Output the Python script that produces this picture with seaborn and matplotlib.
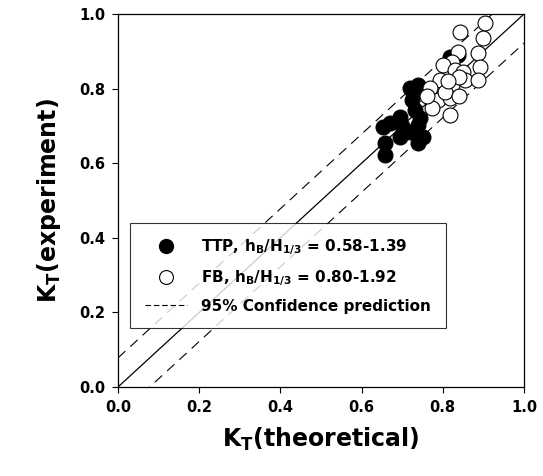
import numpy as np
import pandas as pd
import matplotlib
matplotlib.use("Agg")
import matplotlib.pyplot as plt
from matplotlib.lines import Line2D
import seaborn as sns

# Transmission coefficient: theoretical vs. measured
ttp_theory = [0.658, 0.658, 0.653, 0.670, 0.695, 0.695, 0.719, 0.739, 0.739, 0.732,
              0.724, 0.719, 0.739, 0.727, 0.700, 0.745, 0.750, 0.837, 0.818]
ttp_exper = [0.622, 0.654, 0.697, 0.708, 0.724, 0.670, 0.684, 0.654, 0.702, 0.743,
             0.769, 0.802, 0.810, 0.788, 0.700, 0.720, 0.670, 0.890, 0.885]

fb_theory = [0.904, 0.842, 0.899, 0.837, 0.887, 0.892, 0.823, 0.800, 0.830, 0.850,
             0.793, 0.823, 0.855, 0.887, 0.768, 0.788, 0.818, 0.773, 0.818, 0.805,
             0.840, 0.760, 0.840, 0.812]
fb_exper = [0.976, 0.952, 0.936, 0.898, 0.895, 0.858, 0.871, 0.863, 0.850, 0.845,
            0.823, 0.810, 0.823, 0.823, 0.802, 0.769, 0.775, 0.748, 0.729, 0.790,
            0.780, 0.780, 0.830, 0.820]

band_halfwidth = 0.078
ticks = [0.0, 0.2, 0.4, 0.6, 0.8, 1.0]
tick_labels = ["0.0", "0.2", "0.4", "0.6", "0.8", "1.0"]

sns.set_style("ticks")
plt.rcParams["font.family"] = ["DejaVu Sans"]
plt.rcParams["font.weight"] = "bold"
plt.rcParams["text.color"] = "black"
plt.rcParams["axes.labelcolor"] = "black"
plt.rcParams["xtick.color"] = "black"
plt.rcParams["ytick.color"] = "black"
plt.rcParams["mathtext.fontset"] = "custom"
plt.rcParams["mathtext.rm"] = "DejaVu Sans:bold"
plt.rcParams["mathtext.it"] = "DejaVu Sans:bold"
plt.rcParams["mathtext.bf"] = "DejaVu Sans:bold"

fig = plt.figure(figsize=(5.43, 4.76), dpi=100)
ax = fig.add_axes([118 / 543, 1 - 387 / 476, 406 / 543, 373 / 476])

line_x = np.array([0.0, 1.0])
lines = pd.DataFrame({
    "x": np.concatenate([line_x, line_x, line_x]),
    "y": np.concatenate([line_x, line_x + band_halfwidth, line_x - band_halfwidth]),
    "kind": ["fit"] * 2 + ["upper"] * 2 + ["lower"] * 2,
})
sns.lineplot(data=lines[lines.kind == "fit"], x="x", y="y", color="black",
             lw=0.9, ax=ax, legend=False)
for k in ["upper", "lower"]:
    sns.lineplot(data=lines[lines.kind == k], x="x", y="y", color="black",
                 lw=0.8, ax=ax, legend=False, dashes=False,
                 linestyle=(0, (9, 6)))

ttp = pd.DataFrame({"x": ttp_theory, "y": ttp_exper})
fb = pd.DataFrame({"x": fb_theory, "y": fb_exper})
sns.scatterplot(data=ttp, x="x", y="y", ax=ax, s=115, color="black",
                edgecolor="black", linewidth=0.8, zorder=3)
sns.scatterplot(data=fb, x="x", y="y", ax=ax, s=115, color="white",
                edgecolor="black", linewidth=0.8, zorder=4)

ax.set_xlim(0, 1)
ax.set_ylim(0, 1)
ax.set_xticks(ticks)
ax.set_yticks(ticks)
ax.set_xticklabels(tick_labels, fontsize=10.5, fontweight="bold")
ax.set_yticklabels(tick_labels, fontsize=10.5, fontweight="bold")
ax.tick_params(direction="out", length=4, width=0.8, pad=5)
for sp in ax.spines.values():
    sp.set_linewidth(0.9)
    sp.set_color("black")

ax.set_xlabel(r"K$_\mathregular{T}$(theoretical)", fontsize=17, fontweight="bold", labelpad=8)
ax.set_ylabel(r"K$_\mathregular{T}$(experiment)", fontsize=17, fontweight="bold", labelpad=12)

handles = [
    Line2D([], [], marker="o", color="black", markerfacecolor="black", ls="none", markersize=10),
    Line2D([], [], marker="o", color="black", markerfacecolor="white", ls="none", markersize=10, markeredgewidth=0.8),
    Line2D([], [], color="black", lw=0.8, linestyle=(0, (5, 2.5))),
]
labels = [
    r"TTP, h$_\mathregular{B}$/H$_\mathregular{1/3}$ = 0.58-1.39",
    r"FB, h$_\mathregular{B}$/H$_\mathregular{1/3}$ = 0.80-1.92",
    "95% Confidence prediction",
]
leg = ax.legend(handles, labels, loc="lower left", bbox_to_anchor=(0.03, 0.158),
                fontsize=11, frameon=True, fancybox=False, handlelength=2.8,
                borderpad=0.95, labelspacing=0.7, handletextpad=0.9, borderaxespad=0)
leg.get_frame().set_edgecolor("black")
leg.get_frame().set_linewidth(0.8)
for t in leg.get_texts():
    t.set_fontweight("bold")

fig.savefig("out.png", dpi=100)
